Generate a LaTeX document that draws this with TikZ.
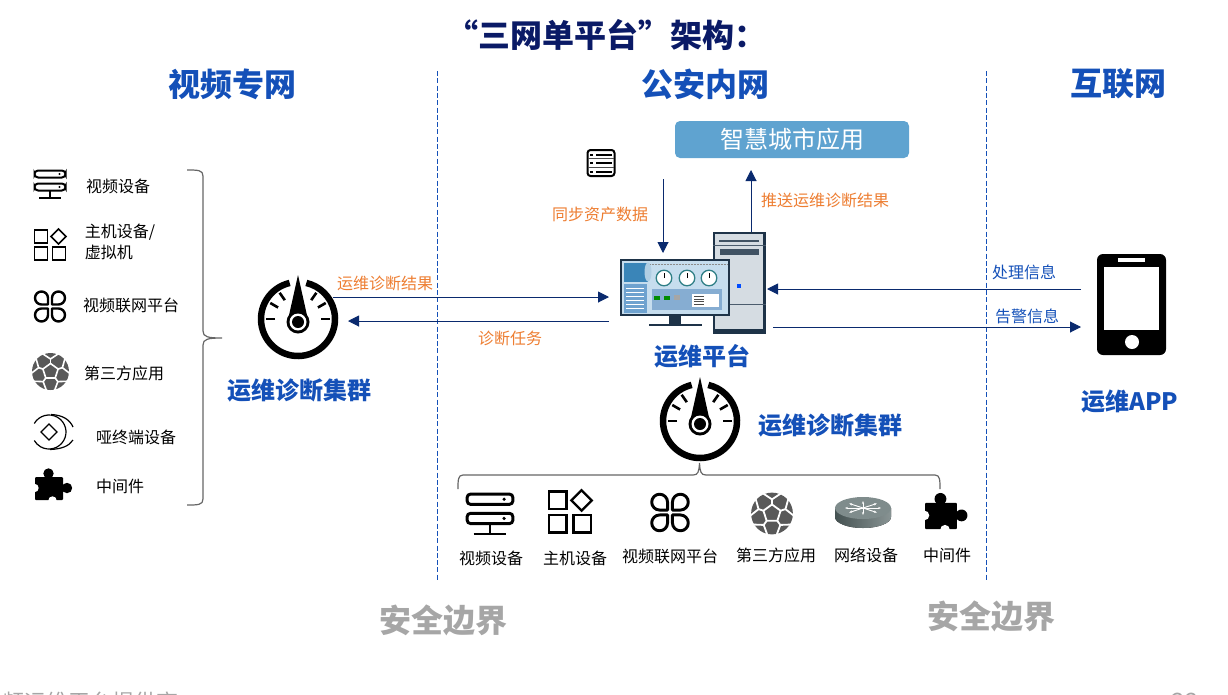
\documentclass[tikz,border=0pt]{standalone}
\usepackage{fontspec}
\setmainfont{Noto Sans CJK SC}
\usetikzlibrary{arrows.meta}
\definecolor{titlenavy}{HTML}{0A1A66}
\definecolor{headblue}{HTML}{1450B8}
\definecolor{flownavy}{HTML}{0A2A6E}
\definecolor{noteorange}{HTML}{ED7D31}
\definecolor{boxblue}{HTML}{5FA3D0}
\definecolor{edgegray}{HTML}{A6A6A6}
\definecolor{caseslate}{HTML}{1E3348}
\definecolor{casebody}{HTML}{D5DCE2}
\definecolor{screenbg}{HTML}{C6DDEE}
\definecolor{paneltop}{HTML}{3A85B8}
\definecolor{panelside}{HTML}{6EA2CF}
\definecolor{panelmid}{HTML}{86ADD2}
\definecolor{dialring}{HTML}{2F7F86}
\definecolor{routertop}{HTML}{7F8C8C}
\definecolor{routerside}{HTML}{566666}
\newcommand{\fs}[1]{\fontsize{#1}{#1}\selectfont}
\newcommand{\gaugeicon}[2]{
    \begin{scope}[shift={(#1,#2)}]
        \draw[line width=6.5pt] (103:37) arc (103:437:37);
        \foreach \a in {0,30,55,125,150,180}
            \draw[line width=2.6pt] (\a:23) -- (\a:32);
        \fill (0,44) -- (10.5,-3) -- (-10.5,-3) -- cycle;
        \fill (0,-3) circle (11.5);
        \fill[white] (0,-3) circle (8.5);
        \fill (0,-3) circle (6);
    \end{scope}
}
\newcommand{\servericon}[3]{
    \begin{scope}[shift={(#1,#2)},scale=#3,line width=#3*2pt]
        \draw[rounded corners=3.6pt] (-15.5,13.5) rectangle (15.5,6.5);
        \draw[rounded corners=3.6pt] (-15.5,0.5) rectangle (15.5,-6.5);
        \fill (9.5,10) circle (1.2);
        \fill (9.5,-3) circle (1.2);
        \draw (0,-6.5) -- (0,-13.5);
        \draw (-11,-13.5) -- (11,-13.5);
    \end{scope}
}
\newcommand{\gridicon}[3]{
    \begin{scope}[shift={(#1,#2)},scale=#3,line width=#3*1.7pt]
        \draw (-15.5,15) rectangle (-2.5,2);
        \draw (8.5,16) -- (16,8.5) -- (8.5,1) -- (1,8.5) -- cycle;
        \draw (-15.5,-2) rectangle (-2.5,-15);
        \draw (2.5,-2) rectangle (15.5,-15);
    \end{scope}
}
\newcommand{\clovericon}[3]{
    \begin{scope}[shift={(#1,#2)},scale=#3,line width=#3*2.4pt]
        \foreach \a in {0,90,180,270}
            \draw[rotate=\a,line join=round] (-2,2) -- (-2,8.5) arc (0:270:6.5) -- cycle;
    \end{scope}
}
\newcommand{\ballicon}[3]{
    \begin{scope}[shift={(#1,#2)},scale=#3]
        \fill[black!65] (0,0) circle (18.5);
        \draw[white,line width=#3*1.6pt] (18:8) -- (90:8) -- (162:8) -- (234:8) -- (306:8) -- cycle;
        \foreach \a in {18,90,162,234,306} {
            \draw[white,line width=#3*1.6pt] (\a:8) -- (\a:12.5);
            \draw[white,line width=#3*1.6pt] (\a-24:19.5) -- (\a:12.5) -- (\a+24:19.5);
        }
    \end{scope}
}
\newcommand{\puzzleicon}[3]{
    \begin{scope}[shift={(#1,#2)},scale=#3]
        \fill[rounded corners=1pt] (-17.5,8) rectangle (10.5,-15);
        \fill (-4,11.5) circle (5.2);
        \fill (-7,4) rectangle (-1,10);
        \fill (14.5,-3) circle (5.2);
        \fill (8,-6) rectangle (13,0);
        \fill[white] (-18,-3) circle (4.2);
        \fill[white] (0,-15.5) circle (4.2);
    \end{scope}
}
\begin{document}
\begin{tikzpicture}[x=1pt,y=1pt]
    \tikzstyle{anchorbox}=[inner sep=0pt,outer sep=0pt]
    \tikzstyle{head}=[anchorbox,text=headblue,font=\fs{32}\bfseries]
    \tikzstyle{subhead}=[anchorbox,text=headblue,font=\fs{24}\bfseries]
    \tikzstyle{edgelabel}=[anchorbox,text=edgegray,font=\fs{32}\bfseries]
    \tikzstyle{item}=[anchorbox,font=\fs{16}]
    \tikzstyle{note}=[anchorbox,text=noteorange,font=\fs{16}]
    \tikzstyle{bluenote}=[anchorbox,text=headblue,font=\fs{16}]
    \tikzstyle{footer}=[anchorbox,text=edgegray,font=\fs{22}]
    \tikzstyle{flow}=[flownavy,line width=1pt,-{Triangle[length=11pt,width=11pt]}]
    \tikzstyle{border}=[headblue,line width=1pt,dash pattern=on 5pt off 2.3pt]
    \tikzstyle{brace}=[black!60,line width=1.2pt]
    \useasboundingbox (0,0) rectangle (1228,-694);

    % headings
    \node[anchorbox,text=titlenavy,font=\fs{32}\bfseries] (title) at (606,-35) {“三网单平台”架构：};
    \node[head] (netVideo) at (232,-84) {视频专网};
    \node[head] (netPolice) at (705,-84) {公安内网};
    \node[head] (netPublic) at (1118,-84) {互联网};

    % security borders
    \coordinate (borderAtop) at (437,-71);
    \coordinate (borderAbot) at (437,-580);
    \coordinate (borderBtop) at (986,-71);
    \coordinate (borderBbot) at (986,-580);
    \draw[border] (borderAtop) -- (borderAbot);
    \draw[border] (borderBtop) -- (borderBbot);
    \node[edgelabel] (edgeA) at (443,-620) {安全边界};
    \node[edgelabel] (edgeB) at (991,-616) {安全边界};

    % left column
    \servericon{50}{-184}{1}
    \gridicon{50}{-245}{1}
    \clovericon{50}{-306.5}{1}
    \ballicon{50.5}{-371.5}{1}
    \begin{scope}[shift={(49,-432)},line width=1.2pt]
        \draw (150:17) arc (150:-150:17);
        \draw (8,0) -- (0,8) -- (-8,0) -- (0,-8) -- cycle;
        \draw (2,17.5) .. controls (14,17) and (21,12) .. (24,5);
        \draw (1,-17.5) .. controls (13,-17) and (20,-14) .. (24,-8);
    \end{scope}
    \puzzleicon{52.5}{-485}{1}
    \node[item] (leftServer) at (118,-186) {视频设备};
    \node[item,align=left] (leftHost) at (120,-242) {主机设备/\\[4pt]虚拟机};
    \node[item] (leftLink) at (131,-305) {视频联网平台};
    \node[item] (leftThird) at (124,-373) {第三方应用};
    \node[item] (leftDumb) at (136,-437) {哑终端设备};
    \node[item] (leftMiddle) at (120,-486) {中间件};
    \draw[brace] (187,-170) .. controls (198,-170) and (203,-170) .. (203,-176) -- (203,-331)
        .. controls (203,-337) and (208,-338) .. (222,-338)
        .. controls (208,-338) and (203,-339) .. (203,-345) -- (203,-499)
        .. controls (203,-505) and (198,-505) .. (187,-505);

    % left cluster
    \gaugeicon{298}{-319}
    \node[anchorbox,minimum width=80pt,minimum height=80pt] (clusterLeft) at (298,-319) {};
    \node[subhead] (clusterLeftName) at (299,-390) {运维诊断集群};

    % smart city box and list icon
    \node[anchorbox,fill=boxblue,rounded corners=5pt,minimum width=234pt,minimum height=37pt,text=white,font=\fs{24}] (cityApp) at (792,-139.5) {智慧城市应用};
    \node[anchorbox,draw=black,line width=2pt,rounded corners=3pt,minimum width=27pt,minimum height=26pt] (assetList) at (601,-163) {};
    \foreach \y in {-154.5,-163,-171.5} {
        \fill (590,\y-1) rectangle (593,\y+1);
        \fill (596,\y-1) rectangle (612,\y+1);
    }
    \draw[black!70,line width=.8pt] (588,-158.7) -- (614,-158.7);
    \draw[black!70,line width=.8pt] (588,-167.3) -- (614,-167.3);

    % tower
    \node[anchorbox,minimum width=53pt,minimum height=102pt] (tower) at (739.5,-283) {};
    \fill[caseslate] (713,-232) rectangle (766,-334);
    \fill[casebody] (714.5,-234) rectangle (762.5,-329);
    \fill[caseslate!85] (719,-239.5) rectangle (759,-242);
    \draw[caseslate!80,line width=.7pt] (713,-245.5) -- (766,-245.5);
    \fill[caseslate!85] (720,-249) rectangle (759,-255);
    \fill[blue!70!cyan] (737,-284) rectangle (741,-288);
    \draw[caseslate!80,line width=.7pt] (730,-304) -- (766,-304);

    % monitor
    \node[anchorbox,minimum width=121pt,minimum height=67pt] (monitor) at (669.5,-292.5) {};
    \fill[caseslate] (669,-315) rectangle (681,-324);
    \fill[caseslate] (649,-324) rectangle (702,-326);
    \fill[caseslate] (620,-259) rectangle (730,-316);
    \fill[screenbg] (622,-261) rectangle (728,-314);
    \fill[paneltop] (624,-263) rectangle (648,-282);
    \fill[white!60!paneltop] (648,-272) ellipse (3.5 and 9.5);
    \fill[panelside] (624,-284) rectangle (647,-313);
    \foreach \y in {-288,-292,-296,-300,-304,-308}
        \draw[white,line width=.5pt] (626,\y) -- (644,\y);
    \draw[black!45,line width=.5pt,densely dotted] (650,-264.5) -- (727,-264.5);
    \foreach \x in {664,687,709} {
        \draw[dialring,fill=white,line width=1.3pt] (\x,-278) circle (7.8);
        \draw[black,line width=.6pt] (\x,-278) -- (\x,-273);
    }
    \fill[panelmid] (652,-289) rectangle (722,-310);
    \fill[green!55!black] (654,-296) rectangle (660,-300);
    \fill[green!55!black] (664,-296) rectangle (670,-300);
    \fill[black!35] (674,-295) rectangle (680,-300);
    \fill[white] (692,-294) rectangle (719,-307);
    \foreach \y in {-296.5,-299,-301.5,-304}
        \draw[black!70,line width=.5pt] (694,\y) -- (704,\y);
    \node[subhead] (platformName) at (702,-356) {运维平台};

    % phone
    \node[anchorbox,minimum width=69pt,minimum height=101pt] (phone) at (1131.5,-304.5) {};
    \fill[rounded corners=6pt] (1097,-254) rectangle (1166,-355);
    \fill[white] (1104,-267) rectangle (1159,-330);
    \fill[white] (1118,-258) rectangle (1145,-262);
    \fill[white] (1132,-342) circle (7);
    \node[subhead] (phoneName) at (1130,-401) {运维APP};

    % flows
    \coordinate (syncStart) at (663,-179);
    \draw[flow] (syncStart) -- ([xshift=-6.5pt,yshift=6pt]monitor.north);
    \draw[flow] ([xshift=11.5pt]tower.north) -- ([xshift=-41pt,yshift=-12pt]cityApp.south);
    \draw[flow] ([xshift=-5pt,yshift=22pt]clusterLeft.east) -- ([yshift=-4.5pt]monitor.west);
    \draw[flow] ([yshift=-28.5pt]monitor.west) -- ([xshift=10pt,yshift=-2pt]clusterLeft.east);
    \draw[flow] ([xshift=-16pt,yshift=15.5pt]phone.west) -- ([xshift=1pt,yshift=-6pt]tower.east);
    \draw[flow] ([xshift=7pt,yshift=-44pt]tower.east) -- ([xshift=-16pt,yshift=-22.5pt]phone.west);
    \node[note] (syncNote) at (600,-214) {同步资产数据};
    \node[note] (pushNote) at (825,-200) {推送运维诊断结果};
    \node[note] (resultNote) at (385,-283) {运维诊断结果};
    \node[note] (taskNote) at (510,-338) {诊断任务};
    \node[bluenote] (handleNote) at (1024,-272) {处理信息};
    \node[bluenote] (alarmNote) at (1027,-316) {告警信息};

    % inner cluster
    \gaugeicon{700}{-421}
    \node[anchorbox,minimum width=80pt,minimum height=80pt] (clusterInner) at (700,-421) {};
    \node[subhead] (clusterInnerName) at (830,-425) {运维诊断集群};
    \draw[brace] (458,-489) .. controls (458,-480) and (458,-475) .. (463,-475) -- (693,-475)
        .. controls (698,-475) and (699,-472) .. (699.5,-463)
        .. controls (700,-472) and (701,-475) .. (706,-475) -- (935,-475)
        .. controls (940,-475) and (940,-480) .. (940,-489);

    % bottom row
    \servericon{490}{-514}{1.48}
    \gridicon{570}{-512}{1.36}
    \clovericon{670}{-512.5}{1.22}
    \ballicon{772}{-513.5}{1.13}
    \node[anchorbox,minimum width=56pt,minimum height=31pt] (router) at (863,-512.5) {};
    \fill[left color=routerside!80!black,middle color=routerside,right color=routerside!70!white] (835,-508) -- (835,-517) arc (180:360:28 and 11) -- (891,-508) -- cycle;
    \fill[routertop] (863,-508) ellipse (28 and 11);
    \foreach \a in {0,40,90,140,180,220,270,320}
        \draw[white,line width=.9pt,-{Stealth[length=3pt]}] (863,-508) -- ++(\a:18 and 7);
    \puzzleicon{945}{-512}{1.14}
    \node[item] (botServer) at (491,-558) {视频设备};
    \node[item] (botHost) at (575,-558) {主机设备};
    \node[item] (botLink) at (670,-556) {视频联网平台};
    \node[item] (botThird) at (776,-555) {第三方应用};
    \node[item] (botNet) at (866,-555) {网络设备};
    \node[item] (botMiddle) at (947,-555) {中间件};

    % footer cut by the page edge
    \node[footer] (footerText) at (90,-702) {频运维平台提供商};
    \node[footer,font=\fs{24}] (pageNum) at (1185,-702) {32};
\end{tikzpicture}
\end{document}
